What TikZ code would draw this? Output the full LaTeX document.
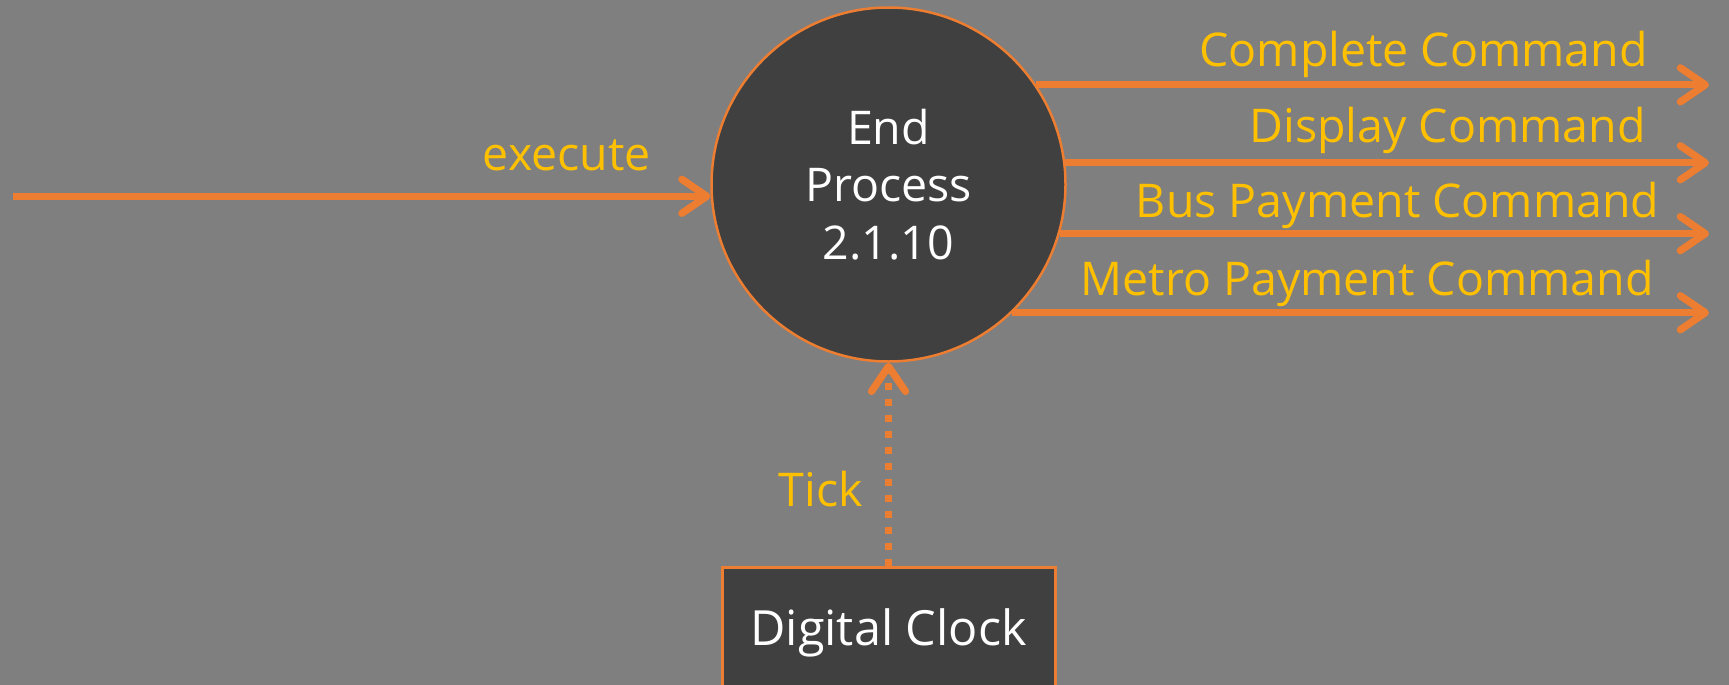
\documentclass[tikz,border=0pt]{standalone}
\usepackage{fontspec}
\setmainfont{Open Sans}
\usetikzlibrary{arrows.meta}
\definecolor{bg}{HTML}{7F7F7F}
\definecolor{org}{HTML}{ED7D31}
\definecolor{yel}{HTML}{FFC000}
\definecolor{dk}{HTML}{404040}
\begin{document}
\begin{tikzpicture}[x=1pt,y=-1pt,
  txt/.style={font=\fontsize{46.5}{57.7}\selectfont},
  lbl/.style={txt, text=yel, inner sep=0pt, anchor=base east},
  flow/.style={draw=org, line width=7.3pt, -{Straight Barb[length=25pt,width=34pt,round]}},
  tickflow/.style={flow, dash pattern=on 7pt off 9pt},
  proc/.style={txt, circle, draw=org, line width=2.5pt, fill=dk, text=white, minimum size=354pt, inner sep=0pt, align=center},
  ext/.style={font=\fontsize{48.5}{57.7}\selectfont, rectangle, draw=org, line width=3pt, fill=dk, text=white, minimum width=333pt, minimum height=130pt, inner sep=0pt}
]
\useasboundingbox (0,0) rectangle (1729,685);
\fill[bg] (0,0) rectangle (1729,685);
\clip (0,0) rectangle (1729,685);

\node[proc] (c) at (888.5,184.5) {End\\Process\\2.1.10};
\node[ext] (clk) at (888.5,632.8) {Digital Clock};

\coordinate (s) at (13,196.3);
\coordinate (e) at (1709,0);

\draw[flow] (s) -- (s -| c.183.8);
\draw[flow] (c.34.2) -- (c.34.2 -| e);
\draw[flow] (c.7.63) -- (c.7.63 -| e);
\draw[flow] (c.-16.92) -- (c.-16.92 -| e);
\draw[flow] (c.-46.55) -- (c.-46.55 -| e);
\draw[tickflow] (clk.north) -- (c.south);

\node[lbl] (lexec) at (651,170) {execute};
\node[lbl] (ltick) at (863,506.7) {Tick};
\node[lbl] (l1) at (1648,66.7) {Complete Command};
\node[lbl] (l2) at (1646,142.7) {Display Command};
\node[lbl] (l3) at (1659.6,217) {Bus Payment Command};
\node[lbl] (l4) at (1654,295) {Metro Payment Command};
\end{tikzpicture}
\end{document}
